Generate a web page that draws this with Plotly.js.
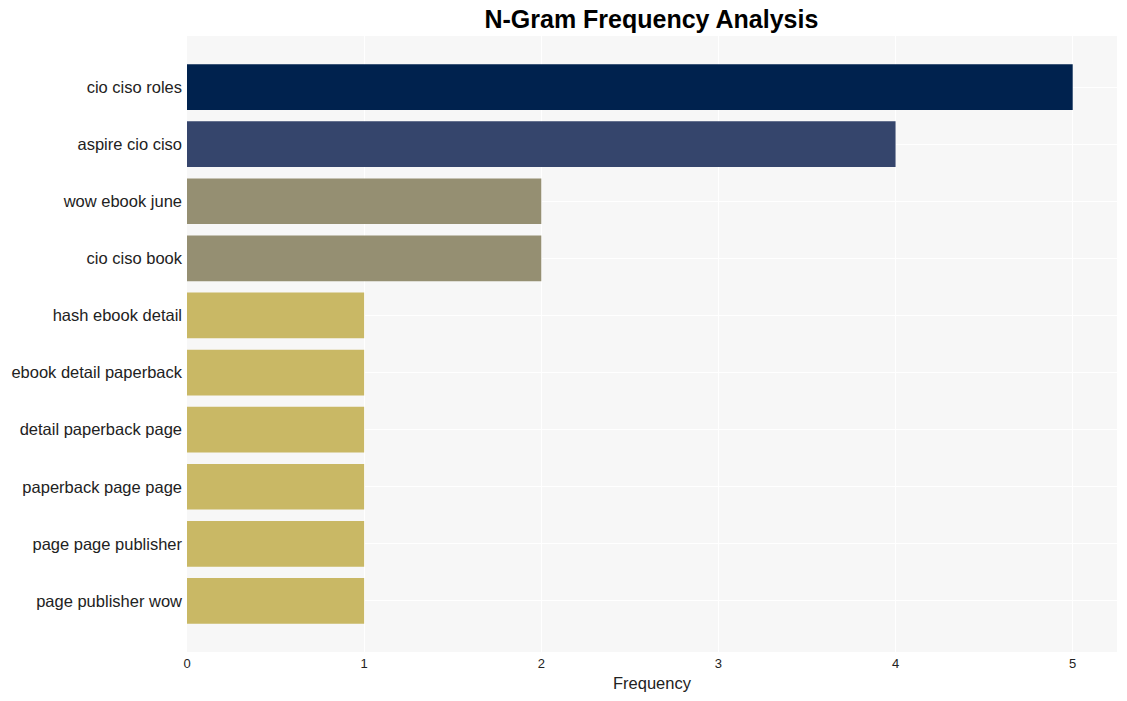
<!DOCTYPE html>
<html>
<head>
<meta charset="utf-8">
<script src="https://cdn.plot.ly/plotly-3.0.1.min.js"></script>
<style>html,body{margin:0;padding:0;background:#fff;}#chart{width:1127px;height:701px;}</style>
</head>
<body>
<div id="chart"></div>
<script>
const ngrams = ["cio ciso roles", "aspire cio ciso", "wow ebook june", "cio ciso book", "hash ebook detail", "ebook detail paperback", "detail paperback page", "paperback page page", "page page publisher", "page publisher wow"];
const frequencies = [5, 4, 2, 2, 1, 1, 1, 1, 1, 1];
const barColors = ["#00224e", "#35456c", "#958f72", "#958f72", "#c9b865", "#c9b865", "#c9b865", "#c9b865", "#c9b865", "#c9b865"];
const xTicks = [0, 1, 2, 3, 4, 5];

Plotly.newPlot('chart', [{
  type: 'bar',
  orientation: 'h',
  x: frequencies,
  y: ngrams,
  marker: {color: barColors},
  hoverinfo: 'x+y'
}], {
  width: 1127, height: 701,
  margin: {l: 187, r: 10, t: 36, b: 49},
  paper_bgcolor: '#ffffff',
  plot_bgcolor: '#f7f7f7',
  bargap: 0.2,
  font: {family: 'Liberation Sans, Arial, sans-serif', color: '#222'},
  title: {text: 'N-Gram Frequency Analysis', font: {size: 25, color: '#000', family: 'Liberation Sans, Arial, sans-serif', weight: 'bold'}, x: 0.578, xanchor: 'center', y: 0.972, yanchor: 'middle'},
  xaxis: {
    range: [0, 5.25],
    tickvals: xTicks,
    ticktext: xTicks.map(String),
    showgrid: true, gridcolor: '#ffffff', gridwidth: 1,
    zeroline: false,
    ticks: '', ticklabelstandoff: 2,
    tickfont: {size: 13, color: '#222'},
    title: {text: 'Frequency', font: {size: 16.5, color: '#222'}, standoff: 7}
  },
  yaxis: {
    type: 'category',
    categoryorder: 'array',
    categoryarray: ngrams,
    range: [9.895, -0.895],
    showgrid: true, gridcolor: '#ffffff', gridwidth: 1,
    zeroline: false,
    ticks: '', ticklabelstandoff: 4,
    tickfont: {size: 16.5, color: '#222'}
  },
  showlegend: false
}, {displayModeBar: false, staticPlot: true});
</script>
</body>
</html>
